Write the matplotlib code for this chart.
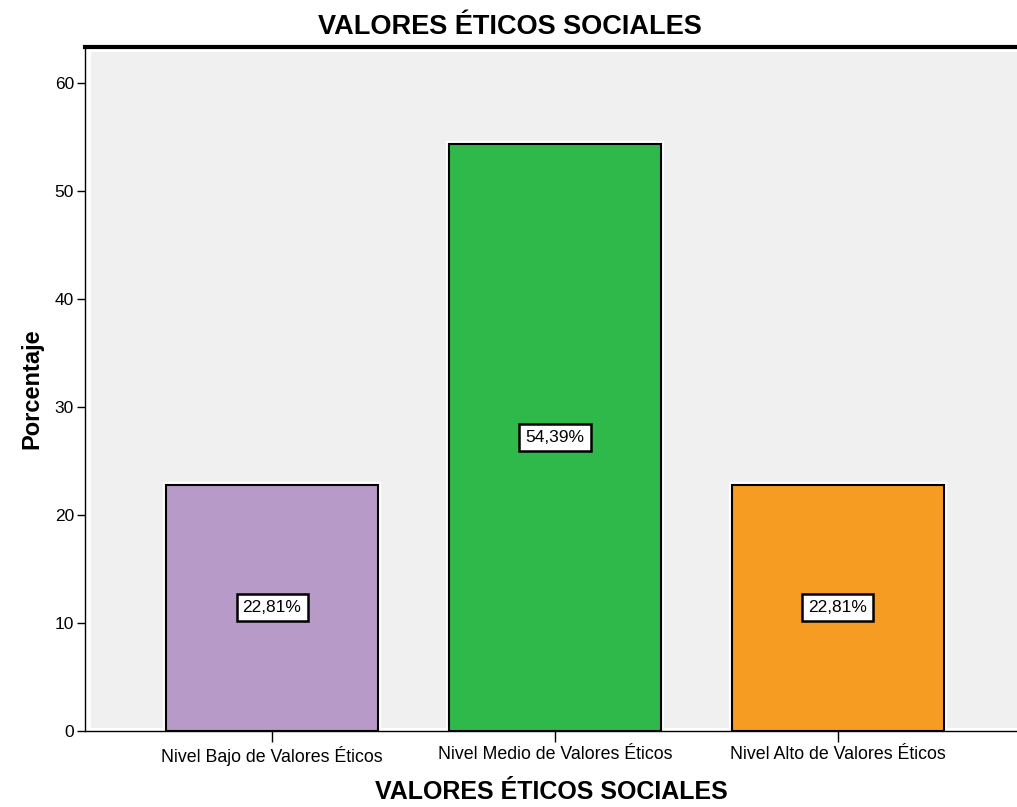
import matplotlib.pyplot as plt
import matplotlib.patheffects as pe
from matplotlib.patches import Rectangle
from matplotlib import font_manager

# data
categorias = ['Nivel Bajo de Valores Éticos', 'Nivel Medio de Valores Éticos',
              'Nivel Alto de Valores Éticos']
porcentajes = [22.81, 54.39, 22.81]
etiquetas = ['22,81%', '54,39%', '22,81%']
colores = ['#b79ac8', '#2fb94b', '#f79c22']
yticks = [0, 10, 20, 30, 40, 50, 60]

names = {f.name for f in font_manager.fontManager.ttflist}
narrow = 'Liberation Sans Narrow' if 'Liberation Sans Narrow' in names else 'Liberation Sans'
plt.rcParams['font.family'] = [narrow, 'DejaVu Sans']

fig = plt.figure(figsize=(10.17, 8.07), dpi=100)
ax = fig.add_axes([85 / 1017, 1 - 731 / 807, 1 - 85 / 1017, 684 / 807])
ax.set_facecolor('white')
# gray inner panel with small white margin
ax.add_patch(Rectangle((0.006, 0.004), 1, 0.988, transform=ax.transAxes,
                       facecolor='#f0f0f0', edgecolor='none', zorder=0))

x = range(len(categorias))
bars = ax.bar(x, porcentajes, width=0.75, color=colores, edgecolor='black',
              linewidth=1.5, zorder=2)
for b in bars:
    b.set_path_effects([pe.Stroke(linewidth=4.5, foreground='white'), pe.Normal()])

for i, v in enumerate(porcentajes):
    ax.text(i, v / 2, etiquetas[i], ha='center', va='center', fontsize=12.5,
            zorder=3,
            bbox=dict(boxstyle='square,pad=0.35', facecolor='white',
                      edgecolor='black', linewidth=1.8))

ax.set_xlim(-0.661, 2.633)
ax.set_ylim(0, 63.33)
ax.set_yticks(yticks)
ax.set_xticks(list(x))
ax.set_xticklabels(categorias, fontsize=12.8)
ax.tick_params(axis='y', labelsize=12.5, length=6, width=1, pad=2)
ax.tick_params(axis='x', length=8, width=1, pad=3)

ax.spines['top'].set_linewidth(3)
ax.spines['left'].set_linewidth(1)
ax.spines['bottom'].set_linewidth(1)
ax.spines['right'].set_visible(False)

ax.set_ylabel('Porcentaje', fontsize=17, fontweight='bold', labelpad=8)
ax.set_xlabel('VALORES ÉTICOS SOCIALES', fontsize=18, fontweight='bold', labelpad=10)
fig.text(0.5016, 1 - 27 / 807, 'VALORES ÉTICOS SOCIALES', ha='center', va='center',
         fontsize=19.5, fontweight='bold')

fig.savefig('out.png', dpi=100)
